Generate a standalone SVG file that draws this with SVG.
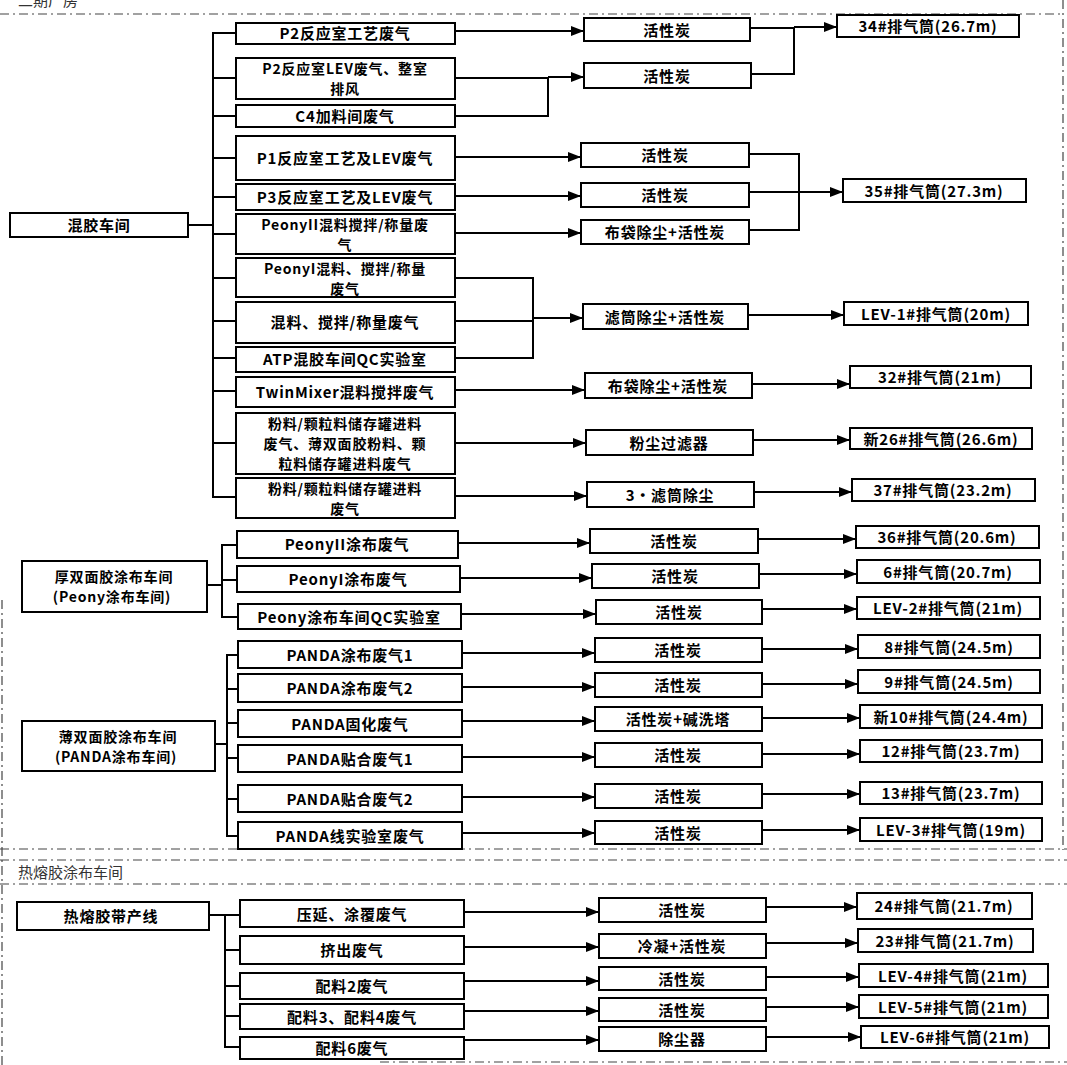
<svg xmlns="http://www.w3.org/2000/svg" width="1067" height="1065" viewBox="0 0 1067 1065">
<style>
.b{fill:#fff;stroke:#000;stroke-width:2}
.t{font-family:"Noto Sans CJK SC","Noto Sans",sans-serif;font-weight:bold;font-size:15px;letter-spacing:0.8px;fill:#000;text-anchor:middle;dominant-baseline:central}
.m{font-size:14px}
.c{fill:none;stroke:#000;stroke-width:2}
.a{fill:none;stroke:#000;stroke-width:2;marker-end:url(#ah)}
.d{fill:none;stroke:#444;stroke-width:1.2;stroke-dasharray:9 4 2 4}
.lb{font-family:"Noto Sans CJK SC",sans-serif;font-size:15px;fill:#333}
</style>
<defs>
<marker id="ah" markerUnits="userSpaceOnUse" markerWidth="13" markerHeight="10" refX="13" refY="5" orient="auto">
<path d="M0,0 L13,5 L0,10 z" fill="#000"/>
</marker>
</defs>
<rect width="1067" height="1065" fill="#fff"/>
<g id="frame">
<text class="lb" x="18" y="6">二期厂房</text>
<line class="d" x1="0" y1="14" x2="1062" y2="14"/>
<line class="d" x1="1063" y1="0" x2="1063" y2="850"/>
<line class="d" x1="0" y1="849" x2="1067" y2="849"/>
<line class="d" x1="2" y1="600" x2="2" y2="1065"/>
<line class="d" x1="0" y1="860" x2="1067" y2="860"/>
<text class="lb" x="18" y="878">热熔胶涂布车间</text>
<line class="d" x1="0" y1="884" x2="1067" y2="884"/>
<line class="d" x1="380" y1="1062" x2="1067" y2="1062"/>
</g>
<g id="connectors">
<line class="c" x1="188" y1="225" x2="213" y2="225"/>
<line class="c" x1="213" y1="32" x2="213" y2="498"/>
<path class="c" d="M213,33H236M213,78H236M213,116H236M213,158H236M213,197H236M213,234H236M213,278H236M213,321H236M213,358H236M213,391H236M213,443H236M213,497H236"/>
<line class="a" x1="455" y1="31" x2="584" y2="31"/>
<path class="c" d="M455,78H548M455,116H548M548,77V117"/>
<line class="a" x1="548" y1="77" x2="584" y2="77"/>
<path class="c" d="M750,28H794M751,74H794M794,27V75"/>
<line class="a" x1="794" y1="27" x2="837" y2="27"/>
<line class="a" x1="455" y1="157" x2="581" y2="157"/>
<line class="a" x1="455" y1="196" x2="581" y2="196"/>
<line class="a" x1="455" y1="233" x2="581" y2="233"/>
<path class="c" d="M749,154H799M749,230H799M799,153V231"/>
<line class="a" x1="749" y1="192" x2="843" y2="192"/>
<path class="c" d="M455,278H533M455,321H533M455,358H533M533,277V359"/>
<line class="a" x1="533" y1="318" x2="583" y2="318"/>
<line class="a" x1="748" y1="315" x2="844" y2="315"/>
<line class="a" x1="455" y1="390" x2="585" y2="390"/>
<line class="a" x1="752" y1="384" x2="850" y2="384"/>
<line class="a" x1="455" y1="443" x2="586" y2="443"/>
<line class="a" x1="753" y1="440" x2="850" y2="440"/>
<line class="a" x1="455" y1="496" x2="587" y2="496"/>
<line class="a" x1="754" y1="492" x2="852" y2="492"/>
<line class="c" x1="207" y1="585" x2="222" y2="585"/>
<line class="c" x1="222" y1="544" x2="222" y2="618"/>
<path class="c" d="M222,545H237M222,580H237M222,617H238"/>
<line class="a" x1="458" y1="543" x2="590" y2="543"/>
<line class="a" x1="460" y1="578" x2="592" y2="578"/>
<line class="a" x1="461" y1="614" x2="596" y2="614"/>
<line class="a" x1="758" y1="539" x2="856" y2="539"/>
<line class="a" x1="759" y1="574" x2="857" y2="574"/>
<line class="a" x1="762" y1="609" x2="857" y2="609"/>
<line class="c" x1="215" y1="744" x2="227" y2="744"/>
<line class="c" x1="227" y1="654" x2="227" y2="837"/>
<path class="c" d="M227,655H238M227,689H238M227,723H238M227,758H238M227,799H238M227,836H238"/>
<line class="a" x1="462" y1="653" x2="595" y2="653"/>
<line class="a" x1="462" y1="687" x2="595" y2="687"/>
<line class="a" x1="462" y1="721" x2="595" y2="721"/>
<line class="a" x1="462" y1="757" x2="595" y2="757"/>
<line class="a" x1="462" y1="797" x2="595" y2="797"/>
<line class="a" x1="462" y1="833" x2="595" y2="833"/>
<line class="a" x1="762" y1="649" x2="858" y2="649"/>
<line class="a" x1="762" y1="684" x2="858" y2="684"/>
<line class="a" x1="762" y1="718" x2="860" y2="718"/>
<line class="a" x1="762" y1="754" x2="860" y2="754"/>
<line class="a" x1="762" y1="794" x2="860" y2="794"/>
<line class="a" x1="762" y1="830" x2="860" y2="830"/>
<line class="c" x1="209" y1="915" x2="240" y2="915"/>
<line class="c" x1="225" y1="914" x2="225" y2="1048"/>
<path class="c" d="M225,950H240M225,986H240M225,1016H240M225,1047H240"/>
<line class="a" x1="464" y1="912" x2="599" y2="912"/>
<line class="a" x1="464" y1="947" x2="599" y2="947"/>
<line class="a" x1="464" y1="981" x2="599" y2="981"/>
<line class="a" x1="464" y1="1011" x2="599" y2="1011"/>
<line class="a" x1="464" y1="1040" x2="599" y2="1040"/>
<line class="a" x1="766" y1="907" x2="857" y2="907"/>
<line class="a" x1="766" y1="943" x2="858" y2="943"/>
<line class="a" x1="766" y1="977" x2="859" y2="977"/>
<line class="a" x1="766" y1="1007" x2="859" y2="1007"/>
<line class="a" x1="766" y1="1037" x2="861" y2="1037"/>
</g>
<g id="n-hunjiao"><rect class="b" x="10" y="213" width="178" height="24"/><text class="t" x="99" y="224" letter-spacing="3">混胶车间</text></g>
<g id="s1-1"><rect class="b" x="236" y="23" width="219" height="21"/><text class="t" x="345" y="32.5">P2反应室工艺废气</text></g>
<g id="s1-2"><rect class="b" x="236" y="58" width="219" height="41"/><text class="t m" x="345" y="68">P2反应室LEV废气、整室</text><text class="t m" x="345" y="88">排风</text></g>
<g id="s1-3"><rect class="b" x="236" y="105" width="219" height="22"/><text class="t" x="345" y="115.5">C4加料间废气</text></g>
<g id="s1-4"><rect class="b" x="236" y="136" width="219" height="44"/><text class="t" x="345" y="157">P1反应室工艺及LEV废气</text></g>
<g id="s1-5"><rect class="b" x="236" y="184" width="219" height="26"/><text class="t" x="345" y="196.5">P3反应室工艺及LEV废气</text></g>
<g id="s1-6"><rect class="b" x="236" y="214" width="219" height="40"/><text class="t m" x="345" y="224">PeonyII混料搅拌/称量废</text><text class="t m" x="345" y="244">气</text></g>
<g id="s1-7"><rect class="b" x="236" y="258" width="219" height="39"/><text class="t m" x="345" y="268">PeonyI混料、搅拌/称量</text><text class="t m" x="345" y="288">废气</text></g>
<g id="s1-8"><rect class="b" x="236" y="302" width="219" height="41"/><text class="t" x="345" y="321">混料、搅拌/称量废气</text></g>
<g id="s1-9"><rect class="b" x="236" y="347" width="219" height="25"/><text class="t" x="345" y="358.5">ATP混胶车间QC实验室</text></g>
<g id="s1-10"><rect class="b" x="236" y="377" width="219" height="30"/><text class="t" x="345" y="391">TwinMixer混料搅拌废气</text></g>
<g id="s1-11"><rect class="b" x="236" y="413" width="219" height="61"/><text class="t m" x="345" y="423">粉料/颗粒料储存罐进料</text><text class="t m" x="345" y="443">废气、薄双面胶粉料、颗</text><text class="t m" x="345" y="463">粒料储存罐进料废气</text></g>
<g id="s1-12"><rect class="b" x="236" y="478" width="219" height="40"/><text class="t m" x="345" y="488">粉料/颗粒料储存罐进料</text><text class="t m" x="345" y="508">废气</text></g>
<g id="s1-t1"><rect class="b" x="584" y="18" width="166" height="23"/><text class="t" x="667" y="29">活性炭</text></g>
<g id="s1-t2"><rect class="b" x="584" y="63" width="167" height="25"/><text class="t" x="667" y="75">活性炭</text></g>
<g id="s1-t4"><rect class="b" x="581" y="143" width="168" height="24"/><text class="t" x="665" y="154.5">活性炭</text></g>
<g id="s1-t5"><rect class="b" x="581" y="183" width="168" height="24"/><text class="t" x="665" y="194.5">活性炭</text></g>
<g id="s1-t6"><rect class="b" x="581" y="220" width="168" height="24"/><text class="t" x="665" y="231.5">布袋除尘+活性炭</text></g>
<g id="s1-t7"><rect class="b" x="583" y="304" width="165" height="25"/><text class="t" x="665" y="316">滤筒除尘+活性炭</text></g>
<g id="s1-t10"><rect class="b" x="585" y="373" width="167" height="25"/><text class="t" x="668" y="385">布袋除尘+活性炭</text></g>
<g id="s1-t11"><rect class="b" x="586" y="430" width="167" height="25"/><text class="t" x="669" y="442">粉尘过滤器</text></g>
<g id="s1-t12"><rect class="b" x="587" y="482" width="167" height="25"/><text class="t" x="670" y="494">3•滤筒除尘</text></g>
<g id="s1-o34"><rect class="b" x="837" y="15" width="182" height="22"/><text class="t" x="928" y="25.5">34#排气筒(26.7m)</text></g>
<g id="s1-o35"><rect class="b" x="843" y="179" width="183" height="23"/><text class="t" x="934" y="190">35#排气筒(27.3m)</text></g>
<g id="s1-lev1"><rect class="b" x="844" y="302" width="184" height="23"/><text class="t" x="936" y="313">LEV-1#排气筒(20m)</text></g>
<g id="s1-o32"><rect class="b" x="850" y="366" width="181" height="22"/><text class="t" x="940" y="376.5">32#排气筒(21m)</text></g>
<g id="s1-o26"><rect class="b" x="850" y="428" width="182" height="21"/><text class="t" x="941" y="438">新26#排气筒(26.6m)</text></g>
<g id="s1-o37"><rect class="b" x="852" y="479" width="183" height="22"/><text class="t" x="943" y="489.5">37#排气筒(23.2m)</text></g>
<g id="n-peony"><rect class="b" x="22" y="561" width="185" height="51"/><text class="t m" x="114" y="576">厚双面胶涂布车间</text><text class="t m" x="112" y="596">(Peony涂布车间)</text></g>
<g id="s2-1"><rect class="b" x="237" y="531" width="221" height="27"/><text class="t" x="347" y="543.5">PeonyII涂布废气</text></g>
<g id="s2-2"><rect class="b" x="237" y="566" width="223" height="26"/><text class="t" x="348" y="578">PeonyI涂布废气</text></g>
<g id="s2-3"><rect class="b" x="238" y="604" width="223" height="25"/><text class="t" x="349" y="616">Peony涂布车间QC实验室</text></g>
<g id="s2-t1"><rect class="b" x="590" y="529" width="168" height="24"/><text class="t" x="674" y="540.5">活性炭</text></g>
<g id="s2-t2"><rect class="b" x="592" y="564" width="167" height="24"/><text class="t" x="675" y="575.5">活性炭</text></g>
<g id="s2-t3"><rect class="b" x="596" y="600" width="166" height="24"/><text class="t" x="679" y="611.5">活性炭</text></g>
<g id="s2-o36"><rect class="b" x="856" y="526" width="183" height="22"/><text class="t" x="947" y="536.5">36#排气筒(20.6m)</text></g>
<g id="s2-o6"><rect class="b" x="857" y="560" width="183" height="23"/><text class="t" x="948" y="571">6#排气筒(20.7m)</text></g>
<g id="s2-lev2"><rect class="b" x="857" y="597" width="183" height="22"/><text class="t" x="948" y="607.5">LEV-2#排气筒(21m)</text></g>
<g id="n-panda"><rect class="b" x="22" y="721" width="193" height="50"/><text class="t m" x="118" y="736">薄双面胶涂布车间</text><text class="t m" x="116" y="756">(PANDA涂布车间)</text></g>
<g id="s3-1"><rect class="b" x="238" y="641" width="224" height="27"/><text class="t" x="350" y="654">PANDA涂布废气1</text></g>
<g id="s3-2"><rect class="b" x="238" y="674" width="224" height="28"/><text class="t" x="350" y="687.5">PANDA涂布废气2</text></g>
<g id="s3-3"><rect class="b" x="238" y="710" width="224" height="27"/><text class="t" x="350" y="723">PANDA固化废气</text></g>
<g id="s3-4"><rect class="b" x="238" y="745" width="224" height="27"/><text class="t" x="350" y="758">PANDA贴合废气1</text></g>
<g id="s3-5"><rect class="b" x="238" y="785" width="224" height="27"/><text class="t" x="350" y="798">PANDA贴合废气2</text></g>
<g id="s3-6"><rect class="b" x="238" y="822" width="224" height="27"/><text class="t" x="350" y="835">PANDA线实验室废气</text></g>
<g id="s3-t1"><rect class="b" x="595" y="638" width="167" height="24"/><text class="t" x="678" y="649.5">活性炭</text></g>
<g id="s3-t2"><rect class="b" x="595" y="673" width="167" height="24"/><text class="t" x="678" y="684.5">活性炭</text></g>
<g id="s3-t3"><rect class="b" x="595" y="707" width="167" height="24"/><text class="t" x="678" y="718.5">活性炭+碱洗塔</text></g>
<g id="s3-t4"><rect class="b" x="595" y="743" width="167" height="24"/><text class="t" x="678" y="754.5">活性炭</text></g>
<g id="s3-t5"><rect class="b" x="595" y="784" width="167" height="24"/><text class="t" x="678" y="795.5">活性炭</text></g>
<g id="s3-t6"><rect class="b" x="595" y="821" width="167" height="23"/><text class="t" x="678" y="832">活性炭</text></g>
<g id="s3-o8"><rect class="b" x="858" y="635" width="182" height="23"/><text class="t" x="949" y="646">8#排气筒(24.5m)</text></g>
<g id="s3-o9"><rect class="b" x="858" y="670" width="182" height="23"/><text class="t" x="949" y="681">9#排气筒(24.5m)</text></g>
<g id="s3-o10"><rect class="b" x="860" y="705" width="182" height="23"/><text class="t" x="951" y="716">新10#排气筒(24.4m)</text></g>
<g id="s3-o12"><rect class="b" x="860" y="740" width="182" height="22"/><text class="t" x="951" y="750.5">12#排气筒(23.7m)</text></g>
<g id="s3-o13"><rect class="b" x="860" y="782" width="182" height="22"/><text class="t" x="951" y="792.5">13#排气筒(23.7m)</text></g>
<g id="s3-lev3"><rect class="b" x="860" y="818" width="182" height="23"/><text class="t" x="951" y="829">LEV-3#排气筒(19m)</text></g>
<g id="n-rerong"><rect class="b" x="17" y="902" width="192" height="28"/><text class="t" x="111" y="915" letter-spacing="1.5">热熔胶带产线</text></g>
<g id="s4-1"><rect class="b" x="240" y="900" width="224" height="27"/><text class="t" x="352" y="913">压延、涂覆废气</text></g>
<g id="s4-2"><rect class="b" x="240" y="936" width="224" height="28"/><text class="t" x="352" y="949.5">挤出废气</text></g>
<g id="s4-3"><rect class="b" x="240" y="973" width="224" height="26"/><text class="t" x="352" y="985.5">配料2废气</text></g>
<g id="s4-4"><rect class="b" x="240" y="1004" width="224" height="25"/><text class="t" x="352" y="1016">配料3、配料4废气</text></g>
<g id="s4-5"><rect class="b" x="240" y="1037" width="224" height="22"/><text class="t" x="352" y="1047.5">配料6废气</text></g>
<g id="s4-t1"><rect class="b" x="599" y="898" width="167" height="24"/><text class="t" x="682" y="909.5">活性炭</text></g>
<g id="s4-t2"><rect class="b" x="599" y="934" width="167" height="24"/><text class="t" x="682" y="945.5">冷凝+活性炭</text></g>
<g id="s4-t3"><rect class="b" x="599" y="967" width="167" height="23"/><text class="t" x="682" y="978">活性炭</text></g>
<g id="s4-t4"><rect class="b" x="599" y="998" width="167" height="23"/><text class="t" x="682" y="1009">活性炭</text></g>
<g id="s4-t5"><rect class="b" x="599" y="1027" width="167" height="24"/><text class="t" x="682" y="1038.5">除尘器</text></g>
<g id="s4-o24"><rect class="b" x="857" y="893" width="175" height="26"/><text class="t" x="944" y="905.5">24#排气筒(21.7m)</text></g>
<g id="s4-o23"><rect class="b" x="858" y="929" width="175" height="23"/><text class="t" x="945" y="940">23#排气筒(21.7m)</text></g>
<g id="s4-lev4"><rect class="b" x="859" y="964" width="189" height="23"/><text class="t" x="953" y="975">LEV-4#排气筒(21m)</text></g>
<g id="s4-lev5"><rect class="b" x="859" y="995" width="189" height="23"/><text class="t" x="953" y="1006">LEV-5#排气筒(21m)</text></g>
<g id="s4-lev6"><rect class="b" x="861" y="1026" width="188" height="22"/><text class="t" x="955" y="1036.5">LEV-6#排气筒(21m)</text></g>
</svg>
